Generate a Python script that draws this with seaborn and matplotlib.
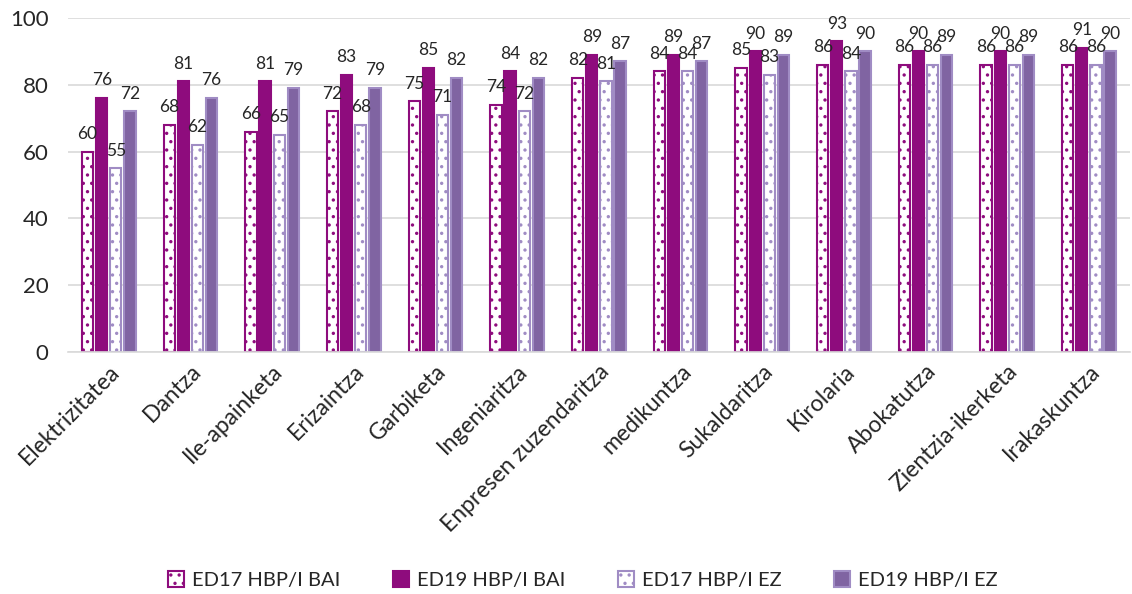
import matplotlib
matplotlib.use('Agg')
import matplotlib.pyplot as plt
import seaborn as sns
import pandas as pd

categories = ['Elektrizitatea', 'Dantza', 'Ile-apainketa', 'Erizaintza', 'Garbiketa',
              'Ingeniaritza', 'Enpresen zuzendaritza', 'medikuntza', 'Sukaldaritza',
              'Kirolaria', 'Abokatutza', 'Zientzia-ikerketa', 'Irakaskuntza']
series_names = ['ED17 HBP/I BAI', 'ED19 HBP/I BAI', 'ED17 HBP/I EZ', 'ED19 HBP/I EZ']
ed17_bai = [60, 68, 66, 72, 75, 74, 82, 84, 85, 86, 86, 86, 86]
ed19_bai = [76, 81, 81, 83, 85, 84, 89, 89, 90, 93, 90, 90, 91]
ed17_ez = [55, 62, 65, 68, 71, 72, 81, 84, 83, 84, 86, 86, 86]
ed19_ez = [72, 76, 79, 79, 82, 82, 87, 87, 89, 90, 89, 89, 90]

rows = []
for name, vals in zip(series_names, [ed17_bai, ed19_bai, ed17_ez, ed19_ez]):
    for c, v in zip(categories, vals):
        rows.append({'kat': c, 'balioa': v, 'serie': name})
df = pd.DataFrame(rows)

magenta = '#8E0C7D'
lavender = '#A08CC4'
purple = '#8064A2'
fills = ['white', magenta, 'white', purple]
edges = [magenta, magenta, lavender, lavender]
hatches = ['..', None, '..', None]

sns.set_style('white')
plt.rcParams['font.family'] = ['Lato', 'DejaVu Sans']
plt.rcParams['hatch.linewidth'] = 1.2

fig = plt.figure(figsize=(11.32, 5.94), dpi=100)
ax = fig.add_axes([0.060, 0.407, 0.938, 0.563])

sns.barplot(data=df, x='kat', y='balioa', hue='serie', palette=fills,
            width=0.69, gap=0.2, ax=ax, legend=False)

for i, cont in enumerate(ax.containers):
    for p in cont:
        p.set_facecolor(fills[i])
        p.set_edgecolor(edges[i])
        p.set_linewidth(1.5)
        if hatches[i]:
            p.set_hatch(hatches[i])
    ax.bar_label(cont, labels=[str(v) for v in cont.datavalues.astype(int)],
                 padding=7, fontsize=12.5)

ax.set_ylim(0, 100)
ax.set_yticks(range(0, 101, 20))
ax.set_xlim(-0.5, len(categories) - 0.5)
ax.grid(axis='y', color='#D9D9D9', linewidth=1.2)
ax.set_axisbelow(True)
for s in ['top', 'right', 'left']:
    ax.spines[s].set_visible(False)
ax.spines['bottom'].set_color('#D9D9D9')
ax.spines['bottom'].set_linewidth(1.2)
ax.tick_params(axis='y', length=0, labelsize=16, pad=14)
ax.tick_params(axis='x', length=0, labelsize=16.5, pad=6)
ax.set_xlabel('')
ax.set_ylabel('')
plt.setp(ax.get_xticklabels(), rotation=45, ha='right', rotation_mode='anchor')

handles = []
for i, name in enumerate(series_names):
    h = plt.Rectangle((0, 0), 1, 1, facecolor=fills[i], edgecolor=edges[i],
                      linewidth=1.5, hatch=hatches[i])
    handles.append(h)
fig.legend(handles, series_names, loc='center', bbox_to_anchor=(0.515, 0.023),
           ncol=4, frameon=False, fontsize=14.5, handlelength=0.8, handleheight=0.8,
           columnspacing=2.6, handletextpad=0.4)

fig.savefig('out.png', dpi=100)
